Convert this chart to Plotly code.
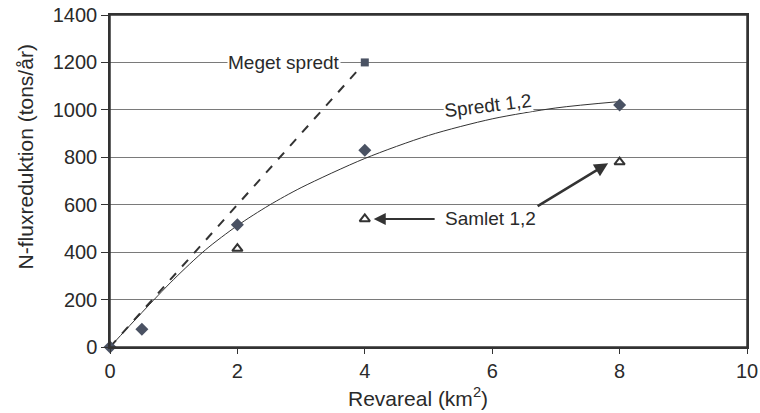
import plotly.graph_objects as go

# Data
spredt_x = [0, 0.5, 2, 4, 8]
spredt_y = [0, 75, 515, 830, 1020]

samlet_x = [2, 4, 8]
samlet_y = [415, 540, 780]

meget_x = [0, 4]
meget_y = [0, 1200]

# trend curve through Spredt
curve_x = [0, 0.5, 1, 1.5, 2, 2.5, 3, 4, 5, 6, 7, 8]
curve_y = [0, 145, 285, 410, 512, 598, 672, 795, 892, 962, 1008, 1035]

x_ticks = [0, 2, 4, 6, 8, 10]
y_ticks = [0, 200, 400, 600, 800, 1000, 1200, 1400]

FONT = "Liberation Sans, Arial, sans-serif"
DARK = "#333333"
MARK = "#4a5263"
TXT = "#2a2a2a"

fig = go.Figure()

fig.add_trace(go.Scatter(x=curve_x, y=curve_y, mode="lines",
                         line=dict(color=DARK, width=1, shape="spline", smoothing=0.8),
                         hoverinfo="skip", showlegend=False, cliponaxis=False))
fig.add_trace(go.Scatter(x=meget_x, y=meget_y, mode="lines",
                         line=dict(color=DARK, width=2, dash="dash"),
                         showlegend=False, cliponaxis=False))
fig.add_trace(go.Scatter(x=meget_x[-1:], y=meget_y[-1:], mode="markers",
                         marker=dict(symbol="square", size=8, color=MARK),
                         showlegend=False, cliponaxis=False))
fig.add_trace(go.Scatter(x=spredt_x, y=spredt_y, mode="markers",
                         marker=dict(symbol="diamond", size=10, color=MARK),
                         showlegend=False, cliponaxis=False))
fig.add_trace(go.Scatter(x=samlet_x, y=samlet_y, mode="markers",
                         marker=dict(symbol="triangle-up-open", size=9,
                                     color=DARK, line=dict(width=2, color=DARK)),
                         showlegend=False, cliponaxis=False))

ann_font = dict(family=FONT, size=19, color=TXT)
fig.add_annotation(x=2.73, y=1200, text="Meget spredt", showarrow=False,
                   font=ann_font, bgcolor="white", borderpad=0)
fig.add_annotation(x=5.94, y=1020, text="Spredt 1,2", showarrow=False,
                   font=ann_font, bgcolor="white", textangle=-7, borderpad=0)
fig.add_annotation(x=5.98, y=540, text="Samlet 1,2", showarrow=False,
                   font=ann_font, bgcolor="white", borderpad=0)
# arrows
fig.add_annotation(x=4.14, y=540, ax=5.12, ay=540, axref="x", ayref="y",
                   xref="x", yref="y", text="", showarrow=True,
                   arrowhead=2, arrowsize=1.2, arrowwidth=2, arrowcolor=DARK)
fig.add_annotation(x=7.82, y=775, ax=6.69, ay=590, axref="x", ayref="y",
                   xref="x", yref="y", text="", showarrow=True,
                   arrowhead=2, arrowsize=1.1, arrowwidth=2.5, arrowcolor=DARK)

# axis titles as annotations for exact placement
fig.add_annotation(xref="paper", yref="paper", x=-0.133, y=0.572,
                   text="N-fluxreduktion (tons/år)", textangle=-90, showarrow=False,
                   font=dict(family=FONT, size=21, color=TXT), xanchor="center", yanchor="middle")
fig.add_annotation(xref="paper", yref="paper", x=0.484, y=-0.152,
                   text="Revareal (km<sup>2</sup>)", showarrow=False,
                   font=dict(family=FONT, size=21, color=TXT), xanchor="center", yanchor="middle")

# plot frame as a shape so every edge shows
fig.add_shape(type="rect", xref="paper", yref="paper", x0=0, x1=1, y0=0, y1=1,
              line=dict(color=DARK, width=1.5), layer="above")

fig.update_layout(
    width=760, height=413,
    margin=dict(l=110, r=13, t=15, b=66),
    paper_bgcolor="white", plot_bgcolor="white",
    font=dict(family=FONT, size=20, color=TXT),
)
fig.update_xaxes(range=[0, 10], tickvals=x_ticks, showgrid=False, zeroline=False,
                 showline=True, linecolor=DARK, linewidth=1.5, mirror=True,
                 ticks="outside", ticklen=5, tickcolor=DARK, automargin=False,
                 ticklabeloverflow="allow", tickfont=dict(size=20))
fig.update_yaxes(range=[0, 1400], tickvals=y_ticks, showgrid=True, gridcolor="#7a7a7a",
                 gridwidth=1, zeroline=False,
                 showline=True, linecolor=DARK, linewidth=1.5, mirror=True,
                 ticks="outside", ticklen=7, tickcolor=DARK, automargin=False,
                 ticklabeloverflow="allow", tickfont=dict(size=20))

# remove the default page margin so the figure fills the window exactly
fig.write_html("out.html", config={"displayModeBar": False},
               post_script="document.body.style.margin='0';")
